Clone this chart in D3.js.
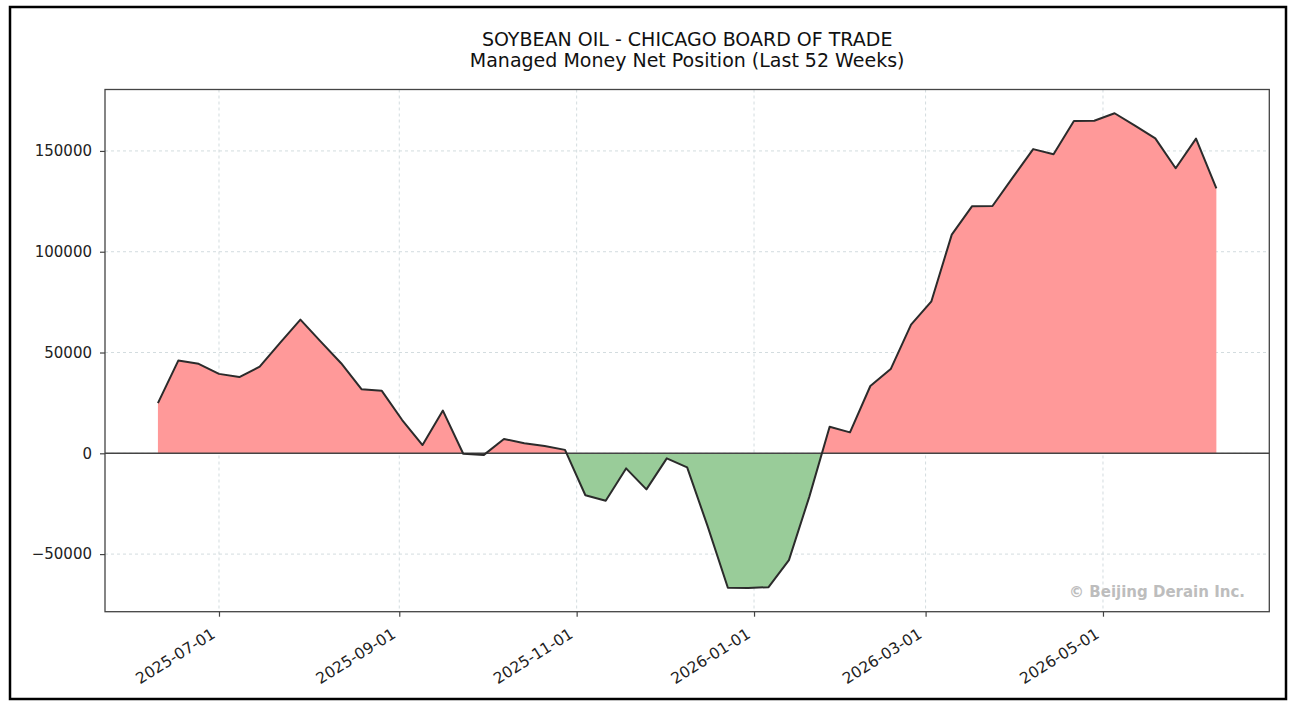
<!DOCTYPE html>
<html>
<head>
<meta charset="utf-8">
<script src="https://cdn.jsdelivr.net/npm/d3@7"></script>
<style>
  body { margin: 0; background: #fff; }
  text { font-family: "DejaVu Sans", sans-serif; }
</style>
</head>
<body>
<script>
const weeks = [
  "2025-06-10", "2025-06-17", "2025-06-24", "2025-07-01", "2025-07-08", "2025-07-15",
  "2025-07-22", "2025-07-29", "2025-08-05", "2025-08-12", "2025-08-19", "2025-08-26",
  "2025-09-02", "2025-09-09", "2025-09-16", "2025-09-23", "2025-09-30", "2025-10-07",
  "2025-10-14", "2025-10-21", "2025-10-28", "2025-11-04", "2025-11-11", "2025-11-18",
  "2025-11-25", "2025-12-02", "2025-12-09", "2025-12-16", "2025-12-23", "2025-12-30",
  "2026-01-06", "2026-01-13", "2026-01-20", "2026-01-27", "2026-02-03", "2026-02-10",
  "2026-02-17", "2026-02-24", "2026-03-03", "2026-03-10", "2026-03-17", "2026-03-24",
  "2026-03-31", "2026-04-07", "2026-04-14", "2026-04-21", "2026-04-28", "2026-05-05",
  "2026-05-12", "2026-05-19", "2026-05-26", "2026-06-02", "2026-06-09"
];

const netPosition = [
  24900, 46000, 44400, 39400, 37800, 43000,
  54800, 66300, 55400, 44700, 31800, 31000,
  16500, 4100, 21200, -200, -900, 7100,
  5000, 3600, 1700, -20800, -23500, -7500,
  -17900, -2500, -7000, -36000, -66700, -66800,
  -66400, -53000, -21600, 13200, 10400, 33400,
  41800, 63800, 75400, 108500, 122600, 122700,
  136900, 150900, 148400, 164900, 165000, 168700,
  162600, 156200, 141400, 156100, 131400
];

const yTicks = [-50000, 0, 50000, 100000, 150000];
const xTicks = ["2025-07-01", "2025-09-01", "2025-11-01", "2026-01-01", "2026-03-01", "2026-05-01"];

const titleLines = ["SOYBEAN OIL - CHICAGO BOARD OF TRADE", "Managed Money Net Position (Last 52 Weeks)"];
const watermark = "\u00a9 Beijing Derain Inc.";

const w = 1297;
const h = 708;
const plotL = 105, plotR = 1269.3, plotT = 89.5, plotB = 611.7;

const parse = d3.utcParse("%Y-%m-%d");
const data = weeks.map((d, i) => ({ date: parse(d), value: netPosition[i] }));

const svg = d3.select("body")
  .append("svg")
  .attr("width", w)
  .attr("height", h);

// outer frame
svg.append("rect")
  .attr("x", 10).attr("y", 7)
  .attr("width", 1276).attr("height", 692)
  .attr("fill", "#fff")
  .attr("stroke", "#000")
  .attr("stroke-width", 2.5);

// matplotlib-like 5% margins
const t0 = data[0].date, t1 = data[data.length - 1].date;
const tPad = (t1 - t0) * 0.05;
const x = d3.scaleUtc()
  .domain([new Date(+t0 - tPad), new Date(+t1 + tPad)])
  .range([plotL, plotR]);

const [vMin, vMax] = d3.extent(netPosition);
const vPad = (vMax - vMin) * 0.05;
const y = d3.scaleLinear()
  .domain([vMin - vPad, vMax + vPad])
  .range([plotB, plotT]);

// grid
const grid = svg.append("g");
grid.selectAll(".vgrid")
  .data(xTicks)
  .enter()
  .append("line")
  .attr("x1", (d) => x(parse(d))).attr("x2", (d) => x(parse(d)))
  .attr("y1", plotT).attr("y2", plotB)
  .attr("stroke", "#d3dcdf")
  .attr("stroke-dasharray", "3,3");
grid.selectAll(".hgrid")
  .data(yTicks)
  .enter()
  .append("line")
  .attr("x1", plotL).attr("x2", plotR)
  .attr("y1", (d) => y(d)).attr("y2", (d) => y(d))
  .attr("stroke", "#d3dcdf")
  .attr("stroke-dasharray", "3,3");

// clip regions above / below zero
const defs = svg.append("defs");
defs.append("clipPath").attr("id", "above")
  .append("rect")
  .attr("x", plotL).attr("y", plotT)
  .attr("width", plotR - plotL).attr("height", y(0) - plotT);
defs.append("clipPath").attr("id", "below")
  .append("rect")
  .attr("x", plotL).attr("y", y(0))
  .attr("width", plotR - plotL).attr("height", plotB - y(0));

const area = d3.area()
  .x((d) => x(d.date))
  .y0(y(0))
  .y1((d) => y(d.value));

svg.append("path")
  .datum(data)
  .attr("d", area)
  .attr("fill", "#ff9999")
  .attr("clip-path", "url(#above)");

svg.append("path")
  .datum(data)
  .attr("d", area)
  .attr("fill", "#99cc99")
  .attr("clip-path", "url(#below)");

// zero line
svg.append("line")
  .attr("x1", plotL).attr("x2", plotR)
  .attr("y1", y(0)).attr("y2", y(0))
  .attr("stroke", "#444")
  .attr("stroke-width", 1.4);

svg.append("path")
  .datum(data)
  .attr("d", d3.line().x((d) => x(d.date)).y((d) => y(d.value)))
  .attr("fill", "none")
  .attr("stroke", "#2b2b2b")
  .attr("stroke-width", 2)
  .attr("stroke-linejoin", "round");

// axes
const fmt = (v) => (v < 0 ? "\u2212" + Math.abs(v) : String(v));
const yAxis = svg.append("g")
  .attr("transform", `translate(${plotL},0)`)
  .call(d3.axisLeft(y).tickValues(yTicks).tickFormat(fmt).tickSize(5).tickPadding(8));
yAxis.select(".domain").remove();
yAxis.selectAll("line").attr("stroke", "#444").attr("stroke-width", 1.2);
yAxis.selectAll("text")
  .attr("font-size", 15)
  .attr("font-family", "DejaVu Sans")
  .attr("fill", "#222");

const xAxis = svg.append("g")
  .attr("transform", `translate(0,${plotB})`)
  .call(d3.axisBottom(x).tickValues(xTicks.map(parse)).tickFormat(d3.utcFormat("%Y-%m-%d")).tickSize(5));
xAxis.select(".domain").remove();
xAxis.selectAll("line").attr("stroke", "#444").attr("stroke-width", 1.2);
xAxis.selectAll("text")
  .attr("font-size", 15.5)
  .attr("font-family", "DejaVu Sans")
  .attr("fill", "#222")
  .attr("text-anchor", "end")
  .attr("dy", null)
  .attr("y", 0)
  .attr("transform", "translate(-3,25) rotate(-32)");

// plot frame
svg.append("rect")
  .attr("x", plotL).attr("y", plotT)
  .attr("width", plotR - plotL).attr("height", plotB - plotT)
  .attr("fill", "none")
  .attr("stroke", "#444")
  .attr("stroke-width", 1.3);

// title
svg.selectAll(".title")
  .data(titleLines)
  .enter()
  .append("text")
  .attr("x", (plotL + plotR) / 2)
  .attr("y", (d, i) => 46 + i * 21)
  .attr("text-anchor", "middle")
  .attr("font-size", 19)
  .attr("fill", "#111")
  .text((d) => d);

svg.append("text")
  .attr("x", 1245)
  .attr("y", 597)
  .attr("text-anchor", "end")
  .attr("font-size", 15)
  .attr("font-weight", "bold")
  .attr("fill", "#bdbdbd")
  .text(watermark);
</script>
</body>
</html>
